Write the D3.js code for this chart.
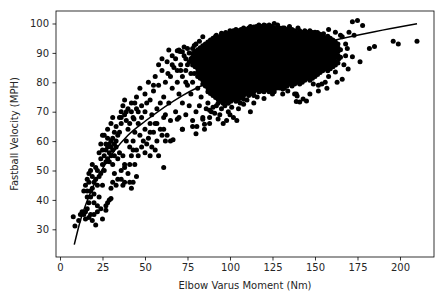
<!DOCTYPE html>
<html>
<head>
<meta charset="utf-8">
<script src="https://cdn.jsdelivr.net/npm/d3@7"></script>
<style>
  body { margin: 0; background: #fff; }
  svg text { font-family: "DejaVu Sans", sans-serif; fill: #262626; }
</style>
</head>
<body>
<svg id="chart" width="447" height="298"></svg>
<script>
// tick labels
const xTicks = [0, 25, 50, 75, 100, 125, 150, 175, 200];
const yTicks = [30, 40, 50, 60, 70, 80, 90, 100];

// sparse points, lower left (Nm, MPH)
const lowPoints = [
  [7.8,34.3],[8.8,31.1],[11,33],[12,35],[13,36],[14,35],[15,36],[15,33.5],[16,37],[17,34],
  [18,35],[19,33],[20,35],[21,31.5],[22,36],[24,37],[25,33.5],[27,36.5],[27,38],[28,39],
  [29,40],[30,40.5],[14,43],[15,45],[16,47],[16,43],[16,41],[17,46],[17,49],[17,39],
  [18,43],[18,50],[18,41],[19,48],[19,44],[19,52],[20,46],[20,42],[20,39],[21,47],
  [21,51],[22,45],[22,50],[22,38],[23,48],[23,41],[24,49],[25,45],[25,52],[26,55],
  [27,57],[28,54],[29,56],[30,58],[31,57],[32,55],[27,59],[28,61],[30,60],[33,58],
  [29,53],[31,52],[26,50],[24,54],[23,56],[25,57],[34,54],[35,56],[33,60],[28,58],
  [30,55],[32,59],[27,53],[29,59],[31,61],[26,62],[24,59],[25,62]
];

// points between the low cluster and the dense core
const midPoints = [
  [28,64],[30,66],[33,65],[35,68],[36,70],[37,72],[38,69],[35,63],[32,63],[31,68],
  [39,67],[40,64],[41,66],[42,70],[43,68],[44,73],[45,71],[38,74],[36,66],[34,62],
  [40,71],[42,73],[43.5,67.5],[36,68],[39,70],
  [33,45],[34,47],[36,50],[38,52],[40,49],[37,55],[42,55],[44,52],[45,57],[46,55],
  [48,58],[50,56],[47,62],[49,60],[52,61],[55,63],[57,60],[58,55],[56,57],[53,55],
  [54,58],[60,62],[62,60],[59,64],[43,60],[41,58],[39,60],[44,63],[50,64],[46,66],
  [38,46],[36,47],[41,46],[45,48],[42,44],[30,44],[31,46],[32,49],[43,57],[51,59],
  [53,63],[57,66],[61,64],[63,62],[65,60],[38,51],[43,46],[37,45],[61,51],[41,52],
  [53,66],[61,68],[65,67],[66.5,60.5],[72,64],[78,65],[80,62.5],[55,77],
  [45,75],[47,78],[48,72],[50,76],[52,80],[53,74],[56,82],[57,71],[58,79],[60,84],
  [61,75],[62,80],[63,87],[64,73],[65,82],[66,78],[67,85],[68,70],[69,80],[70,76],
  [71,84],[72,73],[66,89],[64,91],[60,88],[58,86],[62,69],[54,69],[50,70],[48,68],
  [46,70],[56,66],[59,73],[70,68],[74,69],[76,72],[78,67],[80,70],[82,72],[84,68],
  [86,71],[88,66],[85,64],[69,67.4],[63.5,83],[70.6,90.5],[69,90.7],[72,90.4],
  [78,91.5],[74,80],[77,76],[79,83],[81,78],[83,75],[87,73],[89,70],[75,86],[77,88],
  [84,67.4],[80.5,65],[72,64],[55,79],[51,73],
  [68,88],[70,91],[71,86],[73,89],[74,84],[75,91.5],[76,87],[77,83],[72,82],[75,79],
  [78,80],[69,84],[73,92],[66,86],[80,93],[82,94],[84,95.5],[79,92.5],[76,90],[74,88]
];

// dense core, one row per MPH level: [MPH, [Nm, ...]]
const coreRows = [
  [99.5, [117,120,123]],
  [99.0, [115.5,118.5,121.5,124.5]],
  [98.5, [108,111,114,117,120,123,126,129,132]],
  [98.0, [103.5,106.5,109.5,112.5,115.5,118.5,121.5,124.5,127.5,130.5,133.5,136.5]],
  [97.5, [102,105,108,111,114,117,120,123,126,129,132,135,138,141,144,147]],
  [96.9, [97.5,100.5,103.5,106.5,109.5,112.5,115.5,118.5,121.5,124.5,127.5,130.5,133.5,136.5,139.5,142.5,145.5,148.5,151.5]],
  [96.3, [96,99,102,105,108,111,114,117,120,123,126,129,132,135,138,141,144,147,150,153]],
  [95.65, [91.5,94.5,97.5,100.5,103.5,106.5,109.5,112.5,115.5,118.5,121.5,124.5,127.5,130.5,133.5,136.5,139.5,142.5,145.5,148.5,151.5,154.5,157.5]],
  [95.0, [90,93,96,99,102,105,108,111,114,117,120,123,126,129,132,135,138,141,144,147,150,153,156,159]],
  [94.35, [88.5,91.5,94.5,97.5,100.5,103.5,106.5,109.5,112.5,115.5,118.5,121.5,124.5,127.5,130.5,133.5,136.5,139.5,142.5,145.5,148.5,151.5,154.5,157.5,160.5]],
  [93.7, [87,90,93,96,99,102,105,108,111,114,117,120,123,126,129,132,135,138,141,144,147,150,153,156,159,162]],
  [93.05, [85.5,88.5,91.5,94.5,97.5,100.5,103.5,106.5,109.5,112.5,115.5,118.5,121.5,124.5,127.5,130.5,133.5,136.5,139.5,142.5,145.5,148.5,151.5,154.5,157.5,160.5,163.5]],
  [92.4, [84,87,90,93,96,99,102,105,108,111,114,117,120,123,126,129,132,135,138,141,144,147,150,153,156,159,162]],
  [91.75, [82.5,85.5,88.5,91.5,94.5,97.5,100.5,103.5,106.5,109.5,112.5,115.5,118.5,121.5,124.5,127.5,130.5,133.5,136.5,139.5,142.5,145.5,148.5,151.5,154.5,157.5,160.5,163.5]],
  [91.1, [81,84,87,90,93,96,99,102,105,108,111,114,117,120,123,126,129,132,135,138,141,144,147,150,153,156,159,162,165]],
  [90.45, [79.5,82.5,85.5,88.5,91.5,94.5,97.5,100.5,103.5,106.5,109.5,112.5,115.5,118.5,121.5,124.5,127.5,130.5,133.5,136.5,139.5,142.5,145.5,148.5,151.5,154.5,157.5,160.5,163.5]],
  [89.8, [78,81,84,87,90,93,96,99,102,105,108,111,114,117,120,123,126,129,132,135,138,141,144,147,150,153,156,159,162]],
  [89.15, [79.5,82.5,85.5,88.5,91.5,94.5,97.5,100.5,103.5,106.5,109.5,112.5,115.5,118.5,121.5,124.5,127.5,130.5,133.5,136.5,139.5,142.5,145.5,148.5,151.5,154.5,157.5,160.5,163.5]],
  [88.5, [78,81,84,87,90,93,96,99,102,105,108,111,114,117,120,123,126,129,132,135,138,141,144,147,150,153,156,159,162,165]],
  [87.85, [79.5,82.5,85.5,88.5,91.5,94.5,97.5,100.5,103.5,106.5,109.5,112.5,115.5,118.5,121.5,124.5,127.5,130.5,133.5,136.5,139.5,142.5,145.5,148.5,151.5,154.5,157.5,160.5]],
  [87.2, [78,81,84,87,90,93,96,99,102,105,108,111,114,117,120,123,126,129,132,135,138,141,144,147,150,153,156,159,162]],
  [86.55, [79.5,82.5,85.5,88.5,91.5,94.5,97.5,100.5,103.5,106.5,109.5,112.5,115.5,118.5,121.5,124.5,127.5,130.5,133.5,136.5,139.5,142.5,145.5,148.5,151.5,154.5,157.5,160.5,163.5]],
  [85.9, [78,81,84,87,90,93,96,99,102,105,108,111,114,117,120,123,126,129,132,135,138,141,144,147,150,153,156,159,162]],
  [85.25, [79.5,82.5,85.5,88.5,91.5,94.5,97.5,100.5,103.5,106.5,109.5,112.5,115.5,118.5,121.5,124.5,127.5,130.5,133.5,136.5,139.5,142.5,145.5,148.5,151.5,154.5,157.5,160.5]],
  [84.6, [81,84,87,90,93,96,99,102,105,108,111,114,117,120,123,126,129,132,135,138,141,144,147,150,153,156,159]],
  [83.95, [82.5,85.5,88.5,91.5,94.5,97.5,100.5,103.5,106.5,109.5,112.5,115.5,118.5,121.5,124.5,127.5,130.5,133.5,136.5,139.5,142.5,145.5,148.5,151.5,154.5,157.5]],
  [83.3, [81,84,87,90,93,96,99,102,105,108,111,114,117,120,123,126,129,132,135,138,141,144,147,150,153]],
  [82.65, [82.5,85.5,88.5,91.5,94.5,97.5,100.5,103.5,106.5,109.5,112.5,115.5,118.5,121.5,124.5,127.5,130.5,133.5,136.5,139.5,142.5,145.5,148.5,151.5]],
  [82.0, [81,84,87,90,93,96,99,102,105,108,111,114,117,120,123,126,129,132,135,138,141,144,147,150]],
  [81.35, [82.5,85.5,88.5,91.5,94.5,97.5,100.5,103.5,106.5,109.5,112.5,115.5,118.5,121.5,124.5,127.5,130.5,133.5,136.5,139.5,142.5,145.5,148.5]],
  [80.7, [84,87,90,93,96,99,102,105,108,111,114,117,120,123,126,129,132,135,138,141,144,147]],
  [80.05, [85.5,88.5,91.5,94.5,97.5,100.5,103.5,106.5,109.5,112.5,115.5,118.5,121.5,124.5,127.5,130.5,133.5,136.5,139.5,142.5]],
  [79.4, [84,87,90,93,96,99,102,105,108,111,114,117,120,123,126,129,132,135,138,141]],
  [78.75, [85.5,88.5,91.5,94.5,97.5,100.5,103.5,106.5,109.5,112.5,115.5,118.5,121.5,124.5,127.5,130.5,133.5,136.5]],
  [78.1, [87,90,93,96,99,102,105,108,111,114,117,120,123,126,129,132]],
  [77.45, [88.5,91.5,94.5,97.5,100.5,103.5,106.5,109.5,112.5,115.5,118.5,121.5,124.5]],
  [76.8, [87,90,93,96,99,102,105,108,111,114,117,120,123,126]],
  [76.15, [88.5,91.5,94.5,97.5,100.5,103.5,106.5,109.5,112.5]],
  [75.5, [90,93,96,99,102,105,108,111,114]],
  [74.85, [91.5,94.5,97.5,100.5,103.5,106.5]],
  [74.2, [93,96,99,102,105,108]],
  [73.55, [94.5,97.5,100.5,103.5]],
  [72.9, [93,96,99]]
];

// scattered points around the core and to the right
const edgePoints = [
  [94,69],[102,68],[85,65.7],[108,72.5],[118,77],[125,76],[131,76],[130.5,80],[139,76],[139,73.5],
  [139.5,75.3],[143,74.3],[131,77.7],[141,73.3],[145,73.6],[138,76],[149,79.4],[154,79.4],[146,82],[149,82.8],
  [137,81],[96,66],[99,70],[105,71],[110,74],[114,73],[120,74.5],[92,72],[98,67],[112,70],
  [116,75],[104,67],[88,68],[86.5,92],[97,95.5],[107,97.2],[120.6,99.3],[106,97.5],
  [159,85.5],[162,83.5],[169.5,84.5],[172,88.7],[176.5,87],[166,95.5],[168,93],[169,91.5],[182,91.5],[185,92.2],
  [172,100.6],[175,101],[178,99.3],[196,94],[199,93],[210,94],[155,95.5],[160,90],[164,88],[167,86],
  [163,80],[158,82],[157,78],[152,77],[147,76],[165,96],[162,97],[158,98],[170,97],[173,96],
  [168,89],[166,81],[100,97.5],[95,96.7],[92,96],[150,97],[155,96.5],[140,98.5],[135,99],[128,99.5],
  [112,99],[126,100],[114,98.8],[131,98.5],[156,80],[152,79],[160,86],[127,78],[134,77],
  [90,71.5],[95,71],[97,72],[101,71.5],[91,69.5],[100,69],[106,73],[88,70.5],[93,67.5]
];

// fitted curve
const fitLine = [
  [8.4,24.8],[12,33],[17.2,41.5],[27,52.5],[40,62],[50.6,67],[72,75.5],
  [100,83],[130,89.5],[159,94],[185,97.2],[210,99.9]
];

const points = [
  ...lowPoints,
  ...midPoints,
  ...coreRows.flatMap(([mph, xs]) => xs.map((x) => [x, mph])),
  ...edgePoints,
];

const svg = d3.select("#chart");
const plotLeft = 56, plotRight = 434, plotTop = 11, plotBottom = 257;

const x = d3.scaleLinear().domain([-2.35, 220]).range([plotLeft, plotRight]);
const y = d3.scaleLinear().domain([20.58, 104.25]).range([plotBottom, plotTop]);

// points
svg.append("g")
  .selectAll("circle")
  .data(points)
  .enter().append("circle")
  .attr("cx", (d) => x(d[0]))
  .attr("cy", (d) => y(d[1]))
  .attr("r", 2.5)
  .attr("fill", "#000");

// fit line
const line = d3.line()
  .x((d) => x(d[0]))
  .y((d) => y(d[1]))
  .curve(d3.curveMonotoneX);

svg.append("path")
  .datum(fitLine)
  .attr("d", line)
  .attr("fill", "none")
  .attr("stroke", "#000")
  .attr("stroke-width", 1.5);

// axes
const xAxis = svg.append("g")
  .attr("transform", `translate(0,${plotBottom})`)
  .call(d3.axisBottom(x).tickValues(xTicks).tickSize(3.5).tickPadding(3.5));
const yAxis = svg.append("g")
  .attr("transform", `translate(${plotLeft},0)`)
  .call(d3.axisLeft(y).tickValues(yTicks).tickSize(3.5).tickPadding(3.5));

[xAxis, yAxis].forEach((g) => {
  g.select(".domain").remove();
  g.selectAll("line").attr("stroke", "#000").attr("stroke-width", 0.8);
  g.selectAll("text").attr("font-size", 10).attr("font-family", "DejaVu Sans");
});

// frame
svg.append("rect")
  .attr("x", plotLeft)
  .attr("y", plotTop)
  .attr("width", plotRight - plotLeft)
  .attr("height", plotBottom - plotTop)
  .attr("fill", "none")
  .attr("stroke", "#000")
  .attr("stroke-width", 0.8);

svg.append("text")
  .attr("x", (plotLeft + plotRight) / 2)
  .attr("y", 289)
  .attr("text-anchor", "middle")
  .attr("font-size", 10)
  .text("Elbow Varus Moment (Nm)");

svg.append("text")
  .attr("transform", `translate(18,${(plotTop + plotBottom) / 2}) rotate(-90)`)
  .attr("text-anchor", "middle")
  .attr("font-size", 10)
  .text("Fastball Velocity (MPH)");
</script>
</body>
</html>
